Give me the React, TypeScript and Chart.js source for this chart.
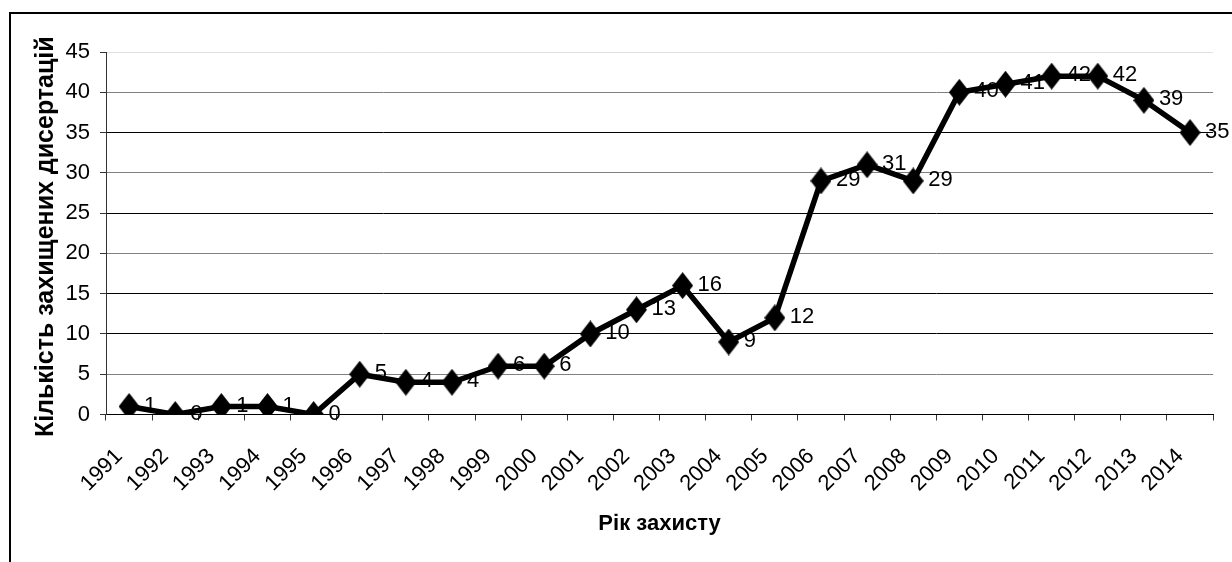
import React, { useEffect, useRef } from "react";
import { Chart, registerables } from "chart.js";

Chart.register(...registerables);

const years = ["1991","1992","1993","1994","1995","1996","1997","1998","1999","2000","2001","2002","2003","2004","2005","2006","2007","2008","2009","2010","2011","2012","2013","2014"];
const defenses = [1,0,1,1,0,5,4,4,6,6,10,13,16,9,12,29,31,29,40,41,42,42,39,35];
const yTitle = "Кількість захищених дисертацій";
const xTitle = "Рік захисту";

const FONT = '"Liberation Sans", Arial, sans-serif';

const dataLabels = {
  id: "dataLabels",
  afterDatasetsDraw(chart: any) {
    const ctx = chart.ctx;
    const meta = chart.getDatasetMeta(0);
    ctx.save();
    ctx.font = `22px ${FONT}`;
    ctx.fillStyle = "#000";
    ctx.textAlign = "left";
    ctx.textBaseline = "middle";
    meta.data.forEach((pt: any, i: number) => {
      ctx.fillText(String(chart.data.datasets[0].data[i]), pt.x + 15, pt.y - 1);
    });
    ctx.restore();
  },
};

function makeDiamond() {
  const c = document.createElement("canvas");
  const w = 21, h = 27;
  c.width = w; c.height = h;
  const g = c.getContext("2d")!;
  g.fillStyle = "#000";
  g.beginPath();
  g.moveTo(w / 2, 0);
  g.lineTo(w, h / 2);
  g.lineTo(w / 2, h);
  g.lineTo(0, h / 2);
  g.closePath();
  g.fill();
  return c;
}

export default function App() {
  const ref = useRef<HTMLCanvasElement>(null);
  useEffect(() => {
    const canvas = ref.current!;
    const diamond = makeDiamond();
    const chart = new Chart(canvas, {
      type: "line",
      data: {
        labels: years,
        datasets: [{
          data: defenses,
          borderColor: "#000",
          backgroundColor: "#000",
          borderWidth: 5.5,
          tension: 0,
          fill: false,
          pointStyle: diamond as any,
          pointRadius: 10,
        }],
      },
      options: {
        responsive: false,
        animation: false,
        devicePixelRatio: 1,
        layout: { padding: { left: 0, top: 52, right: 8, bottom: 0 } },
        plugins: { legend: { display: false }, tooltip: { enabled: false } },
        scales: {
          x: {
            type: "category",
            offset: true,
            grid: { offset: true, drawOnChartArea: false, drawTicks: true, tickLength: 6, color: "#333" },
            border: { display: true, color: "#000", width: 1 },
            ticks: {
              minRotation: 45, maxRotation: 45, autoSkip: false,
              labelOffset: -10, padding: 23,
              color: "#000", font: { family: FONT, size: 22 },
            },
            title: { display: true, text: xTitle, color: "#000", font: { family: FONT, size: 22, weight: "bold" }, padding: { top: 0, bottom: 25 } },
            afterFit: (s: any) => { s.height = 147.5; },
          },
          y: {
            min: 0, max: 45,
            grid: {
              drawTicks: true, tickLength: 6, tickColor: "#333",
              color: (c: any) => {
                const v = c.tick && c.tick.value;
                if (v === 45) return "#e0e0e0";
                if (v === 40 || v === 30 || v === 20 || v === 5) return "#808080";
                return "#000";
              },
            },
            border: { display: true, color: "#333", width: 1 },
            ticks: { stepSize: 5, padding: 10, color: "#000", font: { family: FONT, size: 22 } },
            title: { display: true, text: yTitle + " ", color: "#000", font: { family: FONT, size: 25, weight: "bold" }, padding: { top: 31, bottom: 0 } },
            afterFit: (s: any) => { s.width = 106; },
          },
        },
      },
      plugins: [dataLabels],
    });
    return () => chart.destroy();
  }, []);
  return (
    <div style={{ position: "fixed", left: 0, top: 0, width: 1232, height: 562, overflow: "hidden", background: "#fff" }}>
      <div style={{ position: "absolute", left: 9, top: 12, width: 1400, height: 800, border: "2px solid #000" }} />
      <canvas ref={ref} width={1232} height={562} style={{ position: "absolute", left: 0, top: 0, width: 1232, height: 562 }} />
    </div>
  );
}
